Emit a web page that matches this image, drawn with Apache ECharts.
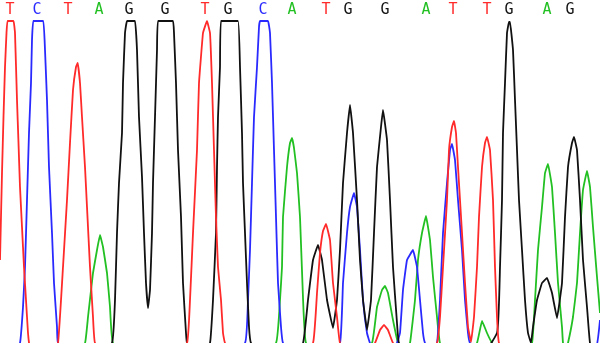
<!DOCTYPE html>
<html>
<head>
<meta charset="utf-8">
<script src="https://cdn.jsdelivr.net/npm/echarts@6/dist/echarts.min.js"></script>
<style>
html,body{margin:0;padding:0;background:#fff;}
#chart{width:600px;height:343px;}
</style>
</head>
<body>
<div id="chart"></div>
<script>
// Base calls (letter, scan position)
var bases = ['T','C','T','A','G','G','T','G','C','A','T','G','G','A','T','T','G','A','G','A'];
var basePositions = [10,37,68,99,129,165,205,228,263,292,326,348,385,426,453,487,509,547,570,603];

// Trace intensities: [scan position, signal]
var traceT = [[0,83],[2,170],[3.5,226],[5,276],[6.5,310],[7.5,322],[13.5,322],[15,310],[17,243],[18.5,200],[20,156],[22,116],[24,76],[26,43],[28,10],[30,-5],[44,-40],[58,0],[63,76],[67,143],[70,200],[73,253],[76,276],[77.7,280],[80,260],[82,226],[85,176],[87,136],[90,76],[93,26],[95,0],[140,-60],[187,0],[190,43],[193,110],[197,193],[199,260],[203,310],[207,322],[210,310],[212,260],[214,193],[216,126],[218,76],[221,43],[223,10],[225,0],[270,-60],[313,0],[317,50],[320,90],[323,112],[326,119],[330,103],[333,60],[337,26],[340,0],[358,-20],[375,0],[380,13],[384,18],[388,13],[393,0],[415,-20],[437,0],[440,26],[443,76],[447,143],[449,193],[452,216],[454,222],[456,210],[458,176],[462,110],[465,60],[468,16],[471,1],[474,26],[477,76],[479,126],[482,176],[485,200],[487,206],[490,193],[493,143],[495,76],[497,26],[499,0],[530,-40],[600,-30]];
var traceC = [[0,-40],[10,-20],[20,0],[23,36],[25,76],[27,143],[29,210],[31,260],[32,303],[33.3,322],[43.3,322],[45,293],[47,243],[49,176],[52,110],[54,60],[57,16],[58,0],[150,-80],[245,0],[248,43],[250,93],[252,160],[254,226],[257,276],[259,316],[260,322],[268,322],[270,310],[272,260],[274,193],[276,126],[278,60],[281,16],[283,0],[312,-30],[340,0],[343,60],[347,110],[350,136],[354,150],[357,136],[360,93],[363,43],[367,10],[370,0],[385,-15],[397,0],[400,10],[403,53],[407,83],[413,93],[417,76],[420,43],[423,10],[425,0],[431,-10],[437,0],[440,43],[443,110],[447,160],[450,193],[452,199],[455,183],[458,143],[462,93],[465,43],[468,10],[470,0],[535,-50],[596,-5],[600,23]];
var traceA = [[0,-60],[50,-60],[85,0],[88,26],[93,70],[97,93],[100,108],[103,96],[107,70],[110,36],[113,0],[195,-80],[276,0],[280,43],[282,76],[283,126],[287,176],[290,200],[292,205],[294,195],[297,170],[300,126],[303,45],[306,0],[340,-30],[372,0],[377,36],[382,53],[385,57],[388,50],[393,23],[398,0],[404,-10],[410,0],[415,43],[418,83],[422,110],[426,127],[430,103],[433,66],[437,26],[440,0],[458,-25],[477,0],[482,22],[487,10],[492,0],[512,-30],[532,0],[535,43],[538,93],[542,136],[545,170],[548,179],[552,156],[555,110],[558,60],[562,16],[563,0],[566,-5],[568,0],[573,26],[577,60],[580,110],[583,153],[587,172],[590,156],[593,116],[597,66],[600,30]];
var traceG = [[0,-60],[60,-60],[112,0],[115,43],[117,110],[119,160],[122,210],[123,260],[125,310],[127,322],[135,322],[137,293],[139,226],[142,166],[144,110],[146,60],[148,35],[150,53],[152,110],[153,160],[155,226],[157,293],[158,322],[173,322],[174,310],[176,260],[178,193],[181,126],[183,60],[186,10],[187,0],[198,-20],[210,0],[213,43],[216,110],[217,176],[218,226],[220,276],[221,322],[238,322],[240,276],[242,210],[243,160],[245,110],[247,60],[249,16],[251,0],[277,-30],[303,0],[308,43],[313,83],[318,98],[322,83],[327,43],[333,15],[337,43],[340,93],[343,160],[347,210],[350,238],[353,210],[357,143],[360,83],[363,43],[367,13],[371,43],[374,110],[377,176],[381,216],[383,233],[387,203],[390,143],[393,76],[397,20],[399,0],[448,-60],[497,10],[500,76],[502,143],[503,210],[505,260],[507,310],[509,321],[510,321],[513,293],[515,243],[517,193],[519,143],[522,93],[525,43],[528,10],[531,0],[533,16],[537,43],[542,60],[547,65],[552,50],[557,25],[562,60],[565,126],[568,176],[572,200],[574,206],[577,193],[580,143],[583,83],[587,36],[590,0],[600,-30]];

var baseColors = {T:'#ff2a2a', C:'#2a2aff', A:'#22c022', G:'#111111'};

var chart = echarts.init(document.getElementById('chart'), null, {renderer:'canvas'});

function traceSeries(name, data) {
  return {
    type:'line', name:name, xAxisIndex:0, yAxisIndex:0,
    data:data, showSymbol:false, symbol:'none', smooth:0.08, clip:true,
    lineStyle:{color:baseColors[name], width:1.8}, z:2
  };
}

var letterData = bases.map(function(b, i){
  return {value:[basePositions[i], 0.5], label:{color:baseColors[b]}, name:b};
});

chart.setOption({
  animation:false,
  backgroundColor:'#ffffff',
  grid:[
    {left:0, right:0, top:0, bottom:0},
    {left:0, right:0, top:0, height:20}
  ],
  xAxis:[
    {type:'value', min:0, max:600, show:false, gridIndex:0},
    {type:'value', min:0, max:600, show:false, gridIndex:1}
  ],
  yAxis:[
    {type:'value', min:0, max:343, show:false, gridIndex:0},
    {type:'value', min:0, max:1, show:false, gridIndex:1}
  ],
  series:[
    traceSeries('A', traceA),
    traceSeries('C', traceC),
    traceSeries('G', traceG),
    traceSeries('T', traceT),
    {
      type:'scatter', xAxisIndex:1, yAxisIndex:1, symbolSize:1,
      itemStyle:{opacity:0}, data:letterData, z:5,
      label:{show:true, position:'inside', formatter:function(p){return p.name;},
        fontFamily:'DejaVu Sans Mono', fontSize:15, opacity:1}
    }
  ]
});
</script>
</body>
</html>
